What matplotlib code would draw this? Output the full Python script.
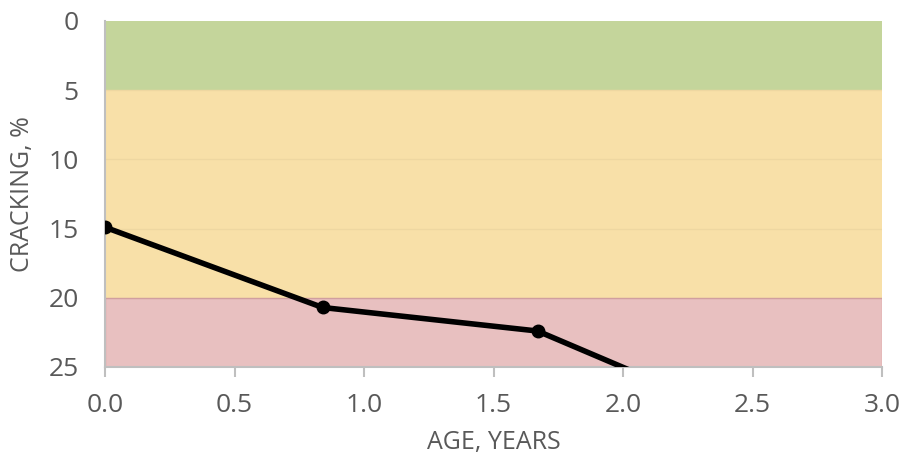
import matplotlib
matplotlib.use("Agg")
import matplotlib.pyplot as plt

# Cracking history
age_years = [0.0, 0.84, 1.67, 2.5]
cracking_pct = [14.9, 20.7, 22.4, 29.0]

# Condition bands (cracking %)
band_edges = [0, 5, 20, 25]
band_colors = ["#c4d59b", "#f8e0a8", "#e8c0c0"]
band_edgecolors = ["#c4d59b", "#f8e0a8", "#d9a6a6"]

x_ticks = [0.0, 0.5, 1.0, 1.5, 2.0, 2.5, 3.0]
y_ticks = [0, 5, 10, 15, 20, 25]

plt.rcParams["font.family"] = ["Open Sans", "DejaVu Sans"]

fig = plt.figure(figsize=(9.02, 4.58), dpi=100)
ax = fig.add_axes([105 / 902, 1 - 367 / 458, (882 - 105) / 902, (367 - 21) / 458])

for lo, hi, fc, ec in zip(band_edges[:-1], band_edges[1:], band_colors, band_edgecolors):
    ax.axhspan(lo, hi, facecolor=fc, edgecolor=ec, linewidth=1.0, zorder=0)

for yv in y_ticks[1:-1]:
    ax.axhline(yv, color="#000000", alpha=0.04, linewidth=1.0, zorder=1)

ax.plot(age_years, cracking_pct, color="black", linewidth=4, marker="o",
        markersize=9, zorder=3, clip_on=True)

ax.set_xlim(0, 3)
ax.set_ylim(25, 0)
ax.set_xticks(x_ticks)
ax.set_xticklabels([f"{v:.1f}" for v in x_ticks])
ax.set_yticks(y_ticks)

for side in ["top", "right"]:
    ax.spines[side].set_visible(False)
ax.spines["left"].set_color("#bfbfbf")
ax.spines["bottom"].set_color("#bfbfbf")
ax.spines["left"].set_linewidth(1.5)
ax.spines["bottom"].set_linewidth(1.5)

ax.tick_params(axis="x", colors="#bfbfbf", labelcolor="#595959", length=7,
               width=1.5, direction="out", labelsize=19, pad=12)
ax.tick_params(axis="y", length=0, labelcolor="#595959", labelsize=19, pad=19)

ax.set_xlabel("AGE, YEARS", color="#595959", fontsize=18, labelpad=8)
ax.set_ylabel("CRACKING, %", color="#595959", fontsize=18)
ax.yaxis.set_label_coords(-70 / (882 - 105), 0.5)

fig.savefig("out.png", dpi=100)
